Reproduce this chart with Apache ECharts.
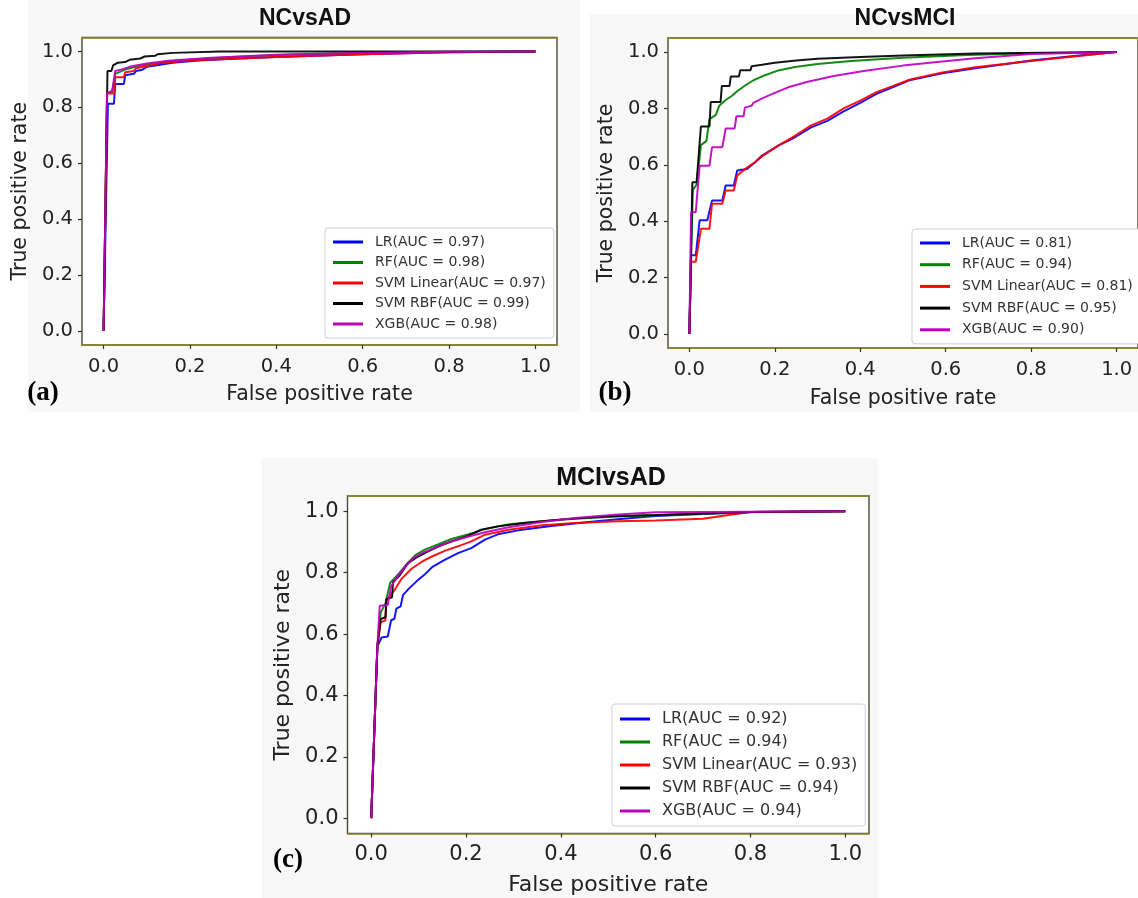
<!DOCTYPE html>
<html>
<head>
<meta charset="utf-8">
<title>ROC curves</title>
<script src="https://cdn.jsdelivr.net/npm/echarts@6.0.0/dist/echarts.min.js"></script>
<style>
  html, body { margin: 0; padding: 0; background: #ffffff; overflow: hidden; }
  #main { width: 1138px; height: 898px; }
</style>
</head>
<body>
<div id="main"></div>
<script>
// Classifiers and their line colours
const models = ['LR', 'RF', 'SVM Linear', 'SVM RBF', 'XGB'];
const modelColors = ['#0000ff', '#008000', '#ff0000', '#000000', '#bf00bf'];

// Area under the curve per classifier, for each comparison
const aucNCvsAD = [0.97, 0.98, 0.97, 0.99, 0.98];
const aucNCvsMCI = [0.81, 0.94, 0.81, 0.95, 0.90];
const aucMCIvsAD = [0.92, 0.94, 0.93, 0.94, 0.94];

// Tick values shared by both axes
const tickValues = [0, 0.2, 0.4, 0.6, 0.8, 1.0];

// ROC points [false positive rate, true positive rate] -- NC vs AD
const ncad_lr = [[0,0],[0.01,0.813],[0.024,0.813],[0.027,0.884],[0.047,0.884],[0.05,0.915],[0.07,0.92],[0.075,0.93],[0.09,0.935],[0.1,0.945],[0.12,0.95],[0.16,0.96],[0.22,0.968],[0.3,0.974],[0.4,0.98],[0.6,0.99],[0.8,0.997],[1,1]];
const ncad_rf = [[0,0],[0.008,0.85],[0.02,0.855],[0.027,0.92],[0.05,0.935],[0.08,0.948],[0.12,0.958],[0.17,0.968],[0.3,0.98],[0.45,0.99],[0.7,0.998],[1,1]];
const ncad_svml = [[0,0],[0.008,0.85],[0.025,0.85],[0.027,0.908],[0.047,0.908],[0.05,0.926],[0.07,0.93],[0.075,0.94],[0.1,0.948],[0.13,0.958],[0.2,0.968],[0.4,0.98],[0.6,0.99],[0.8,0.997],[1,1]];
const ncad_svmr = [[0,0],[0.009,0.93],[0.018,0.93],[0.022,0.95],[0.033,0.96],[0.05,0.962],[0.06,0.97],[0.085,0.975],[0.095,0.982],[0.12,0.985],[0.125,0.99],[0.16,0.995],[0.27,1],[1,1]];
const ncad_xgb = [[0,0],[0.008,0.85],[0.02,0.86],[0.027,0.93],[0.04,0.935],[0.06,0.945],[0.1,0.957],[0.15,0.967],[0.25,0.978],[0.4,0.988],[0.6,0.995],[0.8,0.999],[1,1]];

// ROC points -- NC vs MCI
const ncmci_lr = [[0,0],[0.004,0.279],[0.015,0.279],[0.024,0.403],[0.042,0.403],[0.053,0.473],[0.077,0.473],[0.085,0.527],[0.104,0.527],[0.112,0.58],[0.135,0.585],[0.154,0.609],[0.17,0.633],[0.208,0.668],[0.246,0.697],[0.285,0.733],[0.323,0.756],[0.361,0.79],[0.4,0.82],[0.438,0.852],[0.477,0.876],[0.515,0.9],[0.592,0.925],[0.669,0.943],[0.8,0.97],[0.9,0.986],[1,1]];
const ncmci_rf = [[0,0],[0.008,0.51],[0.017,0.53],[0.027,0.67],[0.04,0.685],[0.047,0.762],[0.062,0.777],[0.07,0.81],[0.085,0.83],[0.1,0.845],[0.111,0.86],[0.127,0.878],[0.15,0.9],[0.177,0.918],[0.208,0.935],[0.247,0.947],[0.3,0.958],[0.378,0.968],[0.5,0.98],[0.65,0.99],[0.8,0.996],[1,1]];
const ncmci_svml = [[0,0],[0.004,0.256],[0.015,0.256],[0.027,0.373],[0.047,0.373],[0.053,0.462],[0.077,0.462],[0.085,0.509],[0.104,0.509],[0.112,0.562],[0.135,0.59],[0.154,0.61],[0.17,0.63],[0.208,0.668],[0.246,0.702],[0.285,0.74],[0.323,0.764],[0.361,0.8],[0.4,0.828],[0.438,0.858],[0.477,0.88],[0.515,0.902],[0.592,0.928],[0.669,0.946],[0.8,0.968],[0.9,0.984],[1,1]];
const ncmci_svmr = [[0,0],[0.007,0.538],[0.017,0.538],[0.027,0.736],[0.047,0.736],[0.05,0.823],[0.073,0.823],[0.076,0.88],[0.094,0.88],[0.097,0.913],[0.116,0.913],[0.119,0.936],[0.143,0.936],[0.146,0.95],[0.17,0.955],[0.2,0.962],[0.25,0.97],[0.3,0.976],[0.4,0.983],[0.5,0.988],[0.67,0.995],[1,1]];
const ncmci_xgb = [[0,0],[0.004,0.432],[0.015,0.432],[0.024,0.597],[0.047,0.597],[0.053,0.662],[0.077,0.662],[0.085,0.729],[0.106,0.729],[0.11,0.772],[0.127,0.772],[0.13,0.803],[0.146,0.81],[0.15,0.82],[0.169,0.835],[0.2,0.855],[0.231,0.875],[0.277,0.895],[0.338,0.915],[0.408,0.933],[0.5,0.952],[0.592,0.967],[0.669,0.978],[0.8,0.993],[1,1]];

// ROC points -- MCI vs AD
const mciad_lr = [[0,0],[0.013,0.56],[0.022,0.589],[0.035,0.592],[0.042,0.645],[0.049,0.65],[0.053,0.683],[0.062,0.69],[0.067,0.727],[0.08,0.749],[0.095,0.771],[0.112,0.793],[0.13,0.82],[0.155,0.842],[0.183,0.864],[0.211,0.88],[0.24,0.908],[0.267,0.925],[0.31,0.938],[0.38,0.952],[0.464,0.966],[0.52,0.974],[0.6,0.985],[0.8,0.998],[1,1]];
const mciad_rf = [[0,0],[0.013,0.56],[0.02,0.67],[0.03,0.7],[0.04,0.767],[0.06,0.8],[0.076,0.83],[0.093,0.857],[0.113,0.875],[0.141,0.892],[0.169,0.91],[0.204,0.925],[0.24,0.942],[0.29,0.958],[0.36,0.968],[0.43,0.976],[0.52,0.983],[0.65,0.99],[0.8,0.997],[1,1]];
const mciad_svml = [[0,0],[0.013,0.56],[0.02,0.638],[0.03,0.645],[0.032,0.71],[0.05,0.745],[0.064,0.78],[0.085,0.813],[0.106,0.835],[0.127,0.852],[0.155,0.871],[0.183,0.886],[0.211,0.902],[0.24,0.924],[0.29,0.94],[0.36,0.955],[0.43,0.962],[0.52,0.968],[0.6,0.97],[0.7,0.976],[0.75,0.987],[0.8,0.998],[1,1]];
const mciad_svmr = [[0,0],[0.013,0.56],[0.02,0.649],[0.03,0.655],[0.032,0.714],[0.044,0.72],[0.046,0.769],[0.06,0.791],[0.077,0.83],[0.098,0.852],[0.119,0.869],[0.147,0.889],[0.175,0.905],[0.204,0.92],[0.232,0.94],[0.267,0.951],[0.324,0.962],[0.394,0.973],[0.5,0.984],[0.6,0.988],[0.8,0.998],[1,1]];
const mciad_xgb = [[0,0],[0.013,0.56],[0.018,0.692],[0.035,0.695],[0.042,0.756],[0.056,0.789],[0.073,0.822],[0.09,0.849],[0.111,0.866],[0.135,0.882],[0.163,0.899],[0.198,0.915],[0.24,0.932],[0.29,0.948],[0.36,0.965],[0.43,0.978],[0.52,0.99],[0.6,0.997],[1,1]];

const FONT = 'DejaVu Sans';
const FRAME_SIDE = '#4a4a36';
const FRAME_EDGE = '#8c8c28';

// Layout of the three panels
const panels = [
  {
    title: 'NCvsAD', tag: '(a)', auc: aucNCvsAD,
    curves: [ncad_lr, ncad_rf, ncad_svml, ncad_svmr, ncad_xgb],
    grid: { left: 82, top: 37.5, width: 475, height: 307.5 },
    bg: [28, 0, 552, 412],
    titleAt: [305, 7], tagAt: [43, 393],
    tickSize: 19.5, tickMargin: 12, nameSize: 20.5, titleSize: 23,
    xNameGap: 39, yNameGap: 51,
    legend: { left: 325, top: 228, gap: 6.5, size: 14, line: 14 }
  },
  {
    title: 'NCvsMCI', tag: '(b)', auc: aucNCvsMCI,
    curves: [ncmci_lr, ncmci_rf, ncmci_svml, ncmci_svmr, ncmci_xgb],
    grid: { left: 668, top: 38, width: 477, height: 310 },
    bg: [590, 14, 548, 398],
    titleAt: [905, 7], tagAt: [615, 393],
    tickSize: 19.5, tickMargin: 12, nameSize: 20.5, titleSize: 23,
    xNameGap: 40, yNameGap: 51,
    legend: { left: 912, top: 229, gap: 7.7, size: 14, line: 14 }
  },
  {
    title: 'MCIvsAD', tag: '(c)', auc: aucMCIvsAD,
    curves: [mciad_lr, mciad_rf, mciad_svml, mciad_svmr, mciad_xgb],
    grid: { left: 347.5, top: 496, width: 521.5, height: 337.5 },
    bg: [262, 458, 616, 440],
    titleAt: [611, 466], tagAt: [288, 860],
    tickSize: 21, tickMargin: 11, nameSize: 22, titleSize: 25,
    xNameGap: 41, yNameGap: 53,
    legend: { left: 612, top: 704, gap: 7, size: 16, line: 16 }
  }
];

const grid = [], xAxis = [], yAxis = [], series = [], legend = [], title = [], graphic = [];

panels.forEach((p, i) => {
  grid.push(Object.assign({ show: true, backgroundColor: '#ffffff', borderColor: FRAME_SIDE, borderWidth: 1.4, containLabel: false }, p.grid));

  graphic.push({
    type: 'rect', z: -10, silent: true,
    shape: { x: p.bg[0], y: p.bg[1], width: p.bg[2], height: p.bg[3] },
    style: { fill: '#f8f8f8' }
  });
  graphic.push({
    type: 'text', x: p.tagAt[0], y: p.tagAt[1], z: 10,
    style: {
      text: p.tag, fill: '#000000', align: 'center', verticalAlign: 'middle',
      font: 'bold 27px "Liberation Serif", "Times New Roman", serif'
    }
  });

  title.push({
    text: p.title, left: p.titleAt[0], top: p.titleAt[1], textAlign: 'center',
    padding: 0,
    textStyle: { fontFamily: 'Liberation Sans, Arial, sans-serif', fontWeight: 'bold', fontSize: p.titleSize, color: '#111111' }
  });

  const axisBase = {
    type: 'value', min: -0.05, max: 1.05, gridIndex: i,
    splitLine: { show: false }
  };
  const labelStyle = {
    margin: p.tickMargin, customValues: tickValues, fontFamily: FONT,
    fontSize: p.tickSize, color: '#222222', formatter: v => v.toFixed(1)
  };
  // bottom x axis with labels
  xAxis.push(Object.assign({}, axisBase, {
    position: 'bottom',
    name: 'False positive rate', nameLocation: 'middle', nameGap: p.xNameGap,
    nameTextStyle: { fontFamily: FONT, fontSize: p.nameSize, color: '#222222' },
    axisLine: { show: true, onZero: false, lineStyle: { color: FRAME_EDGE, width: 1.6 } },
    axisTick: { show: true, length: 4, customValues: tickValues, lineStyle: { color: '#333333', width: 1.2 } },
    axisLabel: labelStyle
  }));
  // top edge of the frame
  xAxis.push(Object.assign({}, axisBase, {
    position: 'top',
    axisLine: { show: true, onZero: false, lineStyle: { color: FRAME_EDGE, width: 1.6 } },
    axisTick: { show: false }, axisLabel: { show: false }
  }));
  yAxis.push(Object.assign({}, axisBase, {
    position: 'left',
    name: 'True positive rate', nameLocation: 'middle', nameGap: p.yNameGap, nameRotate: 90,
    nameTextStyle: { fontFamily: FONT, fontSize: p.nameSize, color: '#222222' },
    axisLine: { show: false, onZero: false },
    axisTick: { show: true, length: 4, customValues: tickValues, lineStyle: { color: '#333333', width: 1.2 } },
    axisLabel: Object.assign({}, labelStyle, { margin: 9 })
  }));

  const names = [];
  p.curves.forEach((pts, k) => {
    const name = models[k] + '(AUC = ' + p.auc[k].toFixed(2) + ')';
    names.push(name);
    series.push({
      type: 'line', name: name, xAxisIndex: i * 2, yAxisIndex: i,
      data: pts, symbol: 'none', smooth: false,
      color: modelColors[k],
      lineStyle: { color: modelColors[k], width: 2, opacity: 0.92 },
      emphasis: { disabled: true },
      z: 2 + k
    });
  });

  legend.push({
    data: names, orient: 'vertical', left: p.legend.left, top: p.legend.top,
    itemGap: p.legend.gap, itemWidth: 30, itemHeight: 3, icon: 'rect',
    padding: [7, 8, 7, 8],
    backgroundColor: '#ffffff', borderColor: '#d0d0d0', borderWidth: 1, borderRadius: 3,
    selectedMode: false,
    textStyle: { fontFamily: FONT, fontSize: p.legend.size, lineHeight: p.legend.line, color: '#333333', padding: [0, 0, 0, 7] }
  });
});

const chart = echarts.init(document.getElementById('main'), null, { renderer: 'canvas' });
chart.setOption({
  animation: false,
  backgroundColor: '#ffffff',
  title: title,
  legend: legend,
  grid: grid,
  xAxis: xAxis,
  yAxis: yAxis,
  series: series,
  graphic: graphic
});
</script>
</body>
</html>
